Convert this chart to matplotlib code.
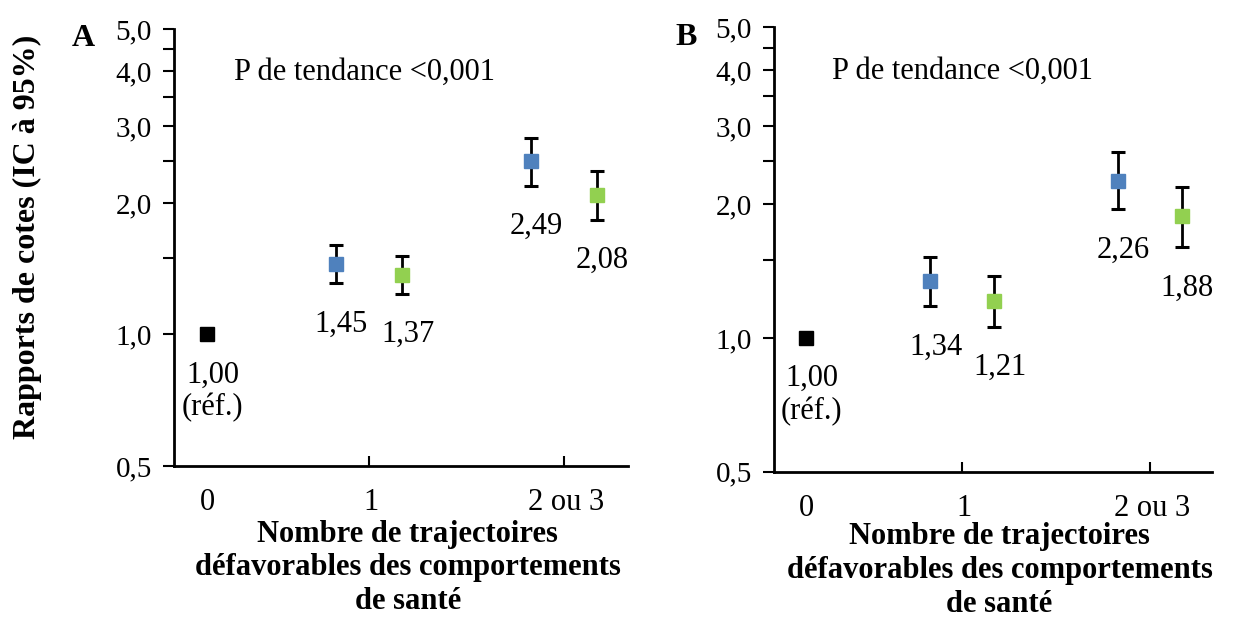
import matplotlib
matplotlib.use("Agg")
import matplotlib.pyplot as plt
from matplotlib.ticker import FixedLocator, NullFormatter
from matplotlib.transforms import blended_transform_factory

plt.rcParams['font.family'] = ['Liberation Serif', 'DejaVu Serif']

# data
categories = ["0", "1", "2 ou 3"]
panels = ["A", "B"]
ratio_a = [1.00, 1.45, 1.37, 2.49, 2.08]
low_a = [1.00, 1.31, 1.24, 2.19, 1.83]
high_a = [1.00, 1.60, 1.51, 2.82, 2.37]
ratio_b = [1.00, 1.34, 1.21, 2.26, 1.88]
low_b = [1.00, 1.18, 1.06, 1.95, 1.60]
high_b = [1.00, 1.52, 1.38, 2.62, 2.19]
labels_a = ["1,00\n(réf.)", "1,45", "1,37", "2,49", "2,08"]
labels_b = ["1,00\n(réf.)", "1,34", "1,21", "2,26", "1,88"]
colors = ["black", "#4F81BD", "#92D050", "#4F81BD", "#92D050"]
yticks_major = [0.5, 1.0, 2.0, 3.0, 4.0, 5.0]
yticks_minor = [1.5, 2.5, 3.5, 4.5]
p_text = "P de tendance <0,001"
ylabel = "Rapports de cotes (IC à 95%)"
xlabel = "Nombre de trajectoires\ndéfavorables des comportements\nde santé"

# layout
xpos = [0.17, 0.83, 1.17, 1.83, 2.17]
cat_pos = [0.17, 1.01, 2.01]
fs = 22

fig = plt.figure(figsize=(12.45, 6.26), dpi=100)
ax_a = fig.add_axes([0.1398, 0.2556, 0.3647, 0.698])
ax_b = fig.add_axes([0.6217, 0.2465, 0.3518, 0.7099])

def draw(ax, ratio, low, high, labels, letter, xlab_y):
    for i in range(len(ratio)):
        if high[i] != low[i]:
            ax.errorbar(xpos[i], ratio[i],
                        yerr=[[ratio[i] - low[i]], [high[i] - ratio[i]]],
                        fmt='none', ecolor='black', elinewidth=2, capsize=5, capthick=2.2, zorder=2)
        ax.plot(xpos[i], ratio[i], marker='s', markersize=10, color=colors[i],
                linestyle='none', zorder=3)
        ax.annotate(labels[i], (xpos[i], low[i]), textcoords="offset points",
                    xytext=(4, -19), ha='center', va='top', fontsize=fs,
                    linespacing=1.15)
    ax.set_yscale('log')
    ax.set_ylim(0.5, 5.0)
    ax.set_xlim(0, 2.33)
    ax.yaxis.set_major_locator(FixedLocator(yticks_major + yticks_minor))
    ax.set_yticklabels([("%.1f" % v).replace(".", ",") for v in yticks_major] + [""] * len(yticks_minor))
    ax.yaxis.set_minor_locator(FixedLocator([]))
    ax.yaxis.set_minor_formatter(NullFormatter())
    ax.set_xticks([1, 2])
    ax.set_xticklabels(["", ""])
    ax.tick_params(axis='y', direction='out', length=8, width=1.5, labelsize=fs - 1, pad=8)
    ax.tick_params(axis='x', direction='in', length=7, width=1.5)
    for s in ['top', 'right']:
        ax.spines[s].set_visible(False)
    for s in ['left', 'bottom']:
        ax.spines[s].set_linewidth(2)
    for c, p in zip(categories, cat_pos):
        ax.text(p, -0.05, c, transform=ax.get_xaxis_transform(), ha='center',
                va='top', fontsize=fs)
    ax.text(0.132, 0.90, p_text, transform=ax.transAxes, fontsize=fs, va='center')
    ax.text(-0.20, 0.978, letter, transform=ax.transAxes, fontsize=fs + 1,
            fontweight='bold', va='center', ha='center')
    trans = blended_transform_factory(ax.transAxes, fig.transFigure)
    ax.text(0.515, xlab_y, xlabel, transform=trans, fontsize=fs,
            fontweight='bold', ha='center', va='top', linespacing=1.22)

draw(ax_a, ratio_a, low_a, high_a, labels_a, panels[0], 0.170)
draw(ax_b, ratio_b, low_b, high_b, labels_b, panels[1], 0.166)
ax_a.set_ylabel(ylabel, fontsize=fs + 1, fontweight='bold')
ax_a.yaxis.set_label_coords(-0.29, 0.524)

fig.savefig("out.png", dpi=100)
